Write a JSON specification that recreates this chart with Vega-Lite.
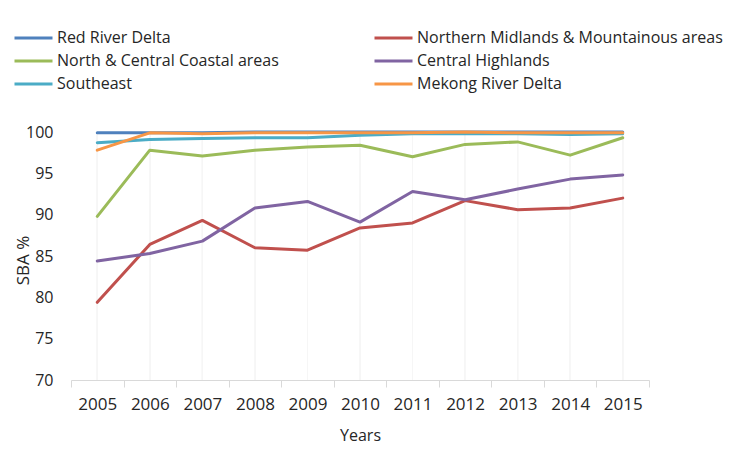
{
  "$schema": "https://vega.github.io/schema/vega-lite/v6.json",
  "width": 578,
  "height": 248,
  "autosize": {"type": "none"},
  "padding": {"left": 71, "top": 132, "right": 81, "bottom": 80},
  "background": "white",
  "config": {
    "view": {"stroke": null},
    "font": "Open Sans"
  },
  "data": {
    "values": [
      {"year": "2005", "region": "Red River Delta", "sba": 99.9},
      {"year": "2006", "region": "Red River Delta", "sba": 99.9},
      {"year": "2007", "region": "Red River Delta", "sba": 99.9},
      {"year": "2008", "region": "Red River Delta", "sba": 100},
      {"year": "2009", "region": "Red River Delta", "sba": 100},
      {"year": "2010", "region": "Red River Delta", "sba": 100},
      {"year": "2011", "region": "Red River Delta", "sba": 100},
      {"year": "2012", "region": "Red River Delta", "sba": 100},
      {"year": "2013", "region": "Red River Delta", "sba": 100},
      {"year": "2014", "region": "Red River Delta", "sba": 100},
      {"year": "2015", "region": "Red River Delta", "sba": 100},
      {"year": "2005", "region": "Northern Midlands & Mountainous areas", "sba": 79.4},
      {"year": "2006", "region": "Northern Midlands & Mountainous areas", "sba": 86.4},
      {"year": "2007", "region": "Northern Midlands & Mountainous areas", "sba": 89.3},
      {"year": "2008", "region": "Northern Midlands & Mountainous areas", "sba": 86.0},
      {"year": "2009", "region": "Northern Midlands & Mountainous areas", "sba": 85.7},
      {"year": "2010", "region": "Northern Midlands & Mountainous areas", "sba": 88.4},
      {"year": "2011", "region": "Northern Midlands & Mountainous areas", "sba": 89.0},
      {"year": "2012", "region": "Northern Midlands & Mountainous areas", "sba": 91.7},
      {"year": "2013", "region": "Northern Midlands & Mountainous areas", "sba": 90.6},
      {"year": "2014", "region": "Northern Midlands & Mountainous areas", "sba": 90.8},
      {"year": "2015", "region": "Northern Midlands & Mountainous areas", "sba": 92.0},
      {"year": "2005", "region": "North & Central Coastal areas", "sba": 89.8},
      {"year": "2006", "region": "North & Central Coastal areas", "sba": 97.8},
      {"year": "2007", "region": "North & Central Coastal areas", "sba": 97.1},
      {"year": "2008", "region": "North & Central Coastal areas", "sba": 97.8},
      {"year": "2009", "region": "North & Central Coastal areas", "sba": 98.2},
      {"year": "2010", "region": "North & Central Coastal areas", "sba": 98.4},
      {"year": "2011", "region": "North & Central Coastal areas", "sba": 97.0},
      {"year": "2012", "region": "North & Central Coastal areas", "sba": 98.5},
      {"year": "2013", "region": "North & Central Coastal areas", "sba": 98.8},
      {"year": "2014", "region": "North & Central Coastal areas", "sba": 97.2},
      {"year": "2015", "region": "North & Central Coastal areas", "sba": 99.3},
      {"year": "2005", "region": "Central Highlands", "sba": 84.4},
      {"year": "2006", "region": "Central Highlands", "sba": 85.3},
      {"year": "2007", "region": "Central Highlands", "sba": 86.8},
      {"year": "2008", "region": "Central Highlands", "sba": 90.8},
      {"year": "2009", "region": "Central Highlands", "sba": 91.6},
      {"year": "2010", "region": "Central Highlands", "sba": 89.1},
      {"year": "2011", "region": "Central Highlands", "sba": 92.8},
      {"year": "2012", "region": "Central Highlands", "sba": 91.8},
      {"year": "2013", "region": "Central Highlands", "sba": 93.1},
      {"year": "2014", "region": "Central Highlands", "sba": 94.3},
      {"year": "2015", "region": "Central Highlands", "sba": 94.8},
      {"year": "2005", "region": "Southeast", "sba": 98.7},
      {"year": "2006", "region": "Southeast", "sba": 99.1},
      {"year": "2007", "region": "Southeast", "sba": 99.2},
      {"year": "2008", "region": "Southeast", "sba": 99.3},
      {"year": "2009", "region": "Southeast", "sba": 99.3},
      {"year": "2010", "region": "Southeast", "sba": 99.6},
      {"year": "2011", "region": "Southeast", "sba": 99.8},
      {"year": "2012", "region": "Southeast", "sba": 99.8},
      {"year": "2013", "region": "Southeast", "sba": 99.8},
      {"year": "2014", "region": "Southeast", "sba": 99.7},
      {"year": "2015", "region": "Southeast", "sba": 99.8},
      {"year": "2005", "region": "Mekong River Delta", "sba": 97.8},
      {"year": "2006", "region": "Mekong River Delta", "sba": 99.9},
      {"year": "2007", "region": "Mekong River Delta", "sba": 99.8},
      {"year": "2008", "region": "Mekong River Delta", "sba": 99.9},
      {"year": "2009", "region": "Mekong River Delta", "sba": 99.9},
      {"year": "2010", "region": "Mekong River Delta", "sba": 99.9},
      {"year": "2011", "region": "Mekong River Delta", "sba": 99.9},
      {"year": "2012", "region": "Mekong River Delta", "sba": 100},
      {"year": "2013", "region": "Mekong River Delta", "sba": 99.9},
      {"year": "2014", "region": "Mekong River Delta", "sba": 99.9},
      {"year": "2015", "region": "Mekong River Delta", "sba": 99.9}
    ]
  },
  "encoding": {
    "x": {
      "field": "year",
      "type": "ordinal",
      "scale": {"type": "band", "paddingInner": 0, "paddingOuter": 0},
      "axis": {
        "title": "Years",
        "labelAngle": 0,
        "labelAlign": "center",
        "tickBand": "extent",
        "grid": false,
        "domainColor": "#d9d9d9",
        "tickColor": "#d9d9d9",
        "tickSize": 7,
        "labelPadding": 9,
        "labelFontSize": 17,
        "labelColor": "#262626",
        "titleFontSize": 16,
        "titleFontWeight": "normal",
        "titleColor": "#262626",
        "titlePadding": 15
      }
    }
  },
  "layer": [
    {
      "mark": {"type": "rule", "color": "#f6f6f6", "strokeWidth": 1},
      "encoding": {}
    },
    {
      "mark": {"type": "line", "strokeWidth": 3, "strokeCap": "round", "strokeJoin": "round"},
      "encoding": {
        "y": {
          "field": "sba",
          "type": "quantitative",
          "scale": {"domain": [70, 100], "nice": false, "zero": false},
          "axis": {
            "title": "SBA %",
            "values": [70, 75, 80, 85, 90, 95, 100],
            "domain": false,
            "ticks": false,
            "tickSize": 0,
            "grid": false,
            "labelPadding": 18,
            "labelFontSize": 16,
            "labelColor": "#262626",
            "titleFontSize": 17,
            "titleFontWeight": "normal",
            "titleColor": "#262626",
            "titleX": -48,
            "titleY": 128,
            "titleAngle": 270,
            "titleAlign": "center",
            "titleBaseline": "middle"
          }
        },
        "color": {
          "field": "region",
          "type": "nominal",
          "sort": null,
          "scale": {
            "domain": ["Red River Delta", "Northern Midlands & Mountainous areas", "North & Central Coastal areas", "Central Highlands", "Southeast", "Mekong River Delta"],
            "range": ["#4F81BD", "#C0504D", "#9BBB59", "#8064A2", "#4BACC6", "#F79646"]
          },
          "legend": {
            "title": null,
            "orient": "none",
            "legendX": -58,
            "legendY": -104,
            "direction": "horizontal",
            "columns": 2,
            "columnPadding": 94,
            "rowPadding": 3,
            "clipHeight": 20,
            "symbolType": "stroke",
            "symbolSize": 1444,
            "symbolStrokeWidth": 3,
            "labelFontSize": 16,
            "labelColor": "#262626",
            "labelOffset": 3,
            "labelLimit": 400
          }
        }
      }
    }
  ]
}
